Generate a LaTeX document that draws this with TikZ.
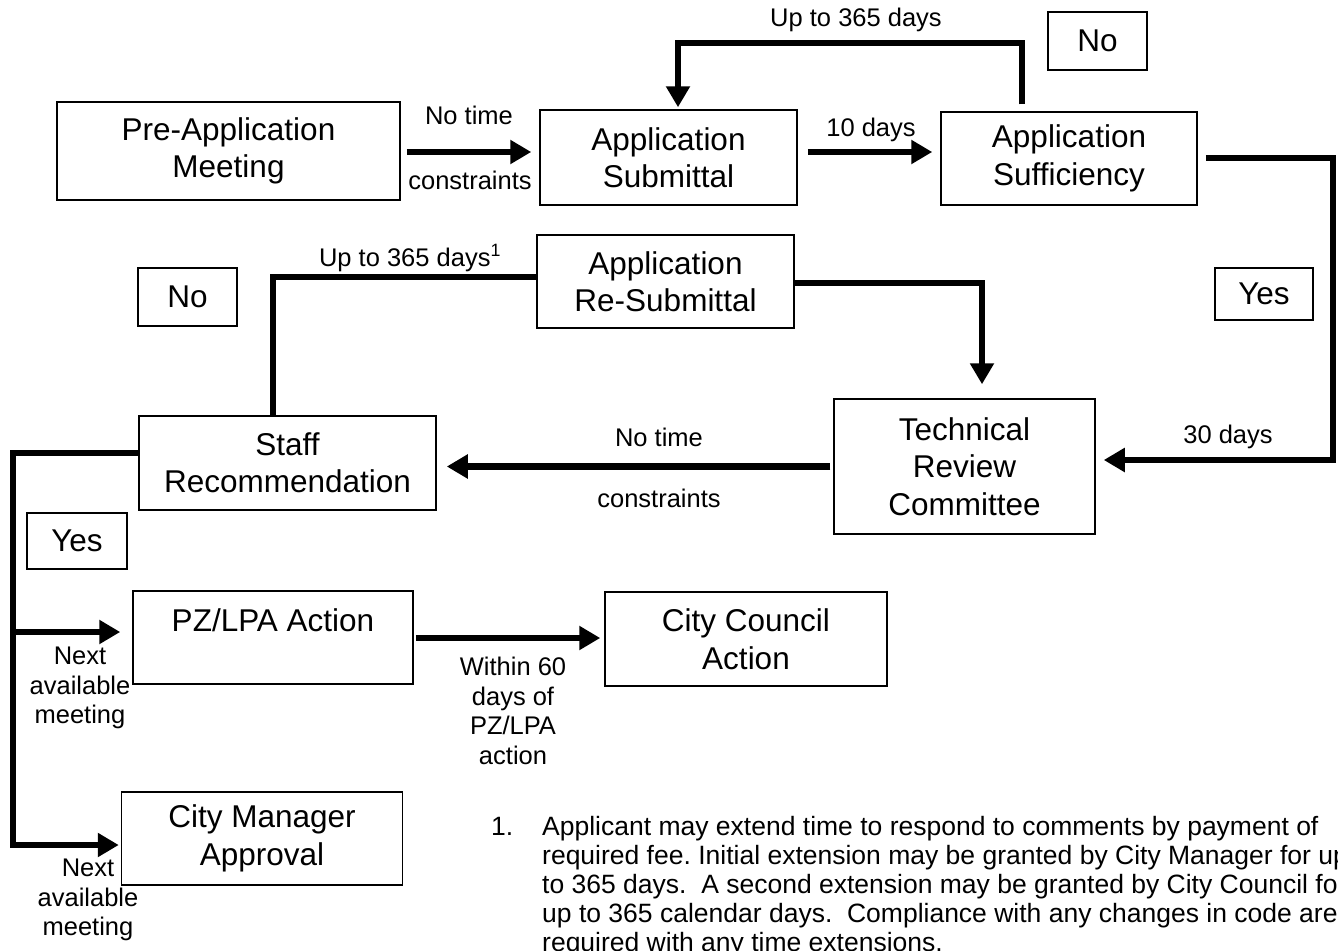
\documentclass[tikz,border=0pt]{standalone}
\usepackage{fontspec}
\setmainfont{Liberation Sans}
\usetikzlibrary{arrows.meta}
\frenchspacing
\begin{document}
\begin{tikzpicture}[x=1pt,y=-1pt,
  box/.style={draw, line width=1.5pt, inner sep=0pt, align=center, font=\fontsize{31.5}{37.5}\selectfont},
  boxtext/.style={inner sep=0pt, align=center, font=\fontsize{31.5}{37.5}\selectfont},
  lbl/.style={inner sep=0pt, align=center, font=\fontsize{25.5}{29.5}\selectfont},
  conn/.style={line width=6.5pt},
  arr/.style={conn, -{Triangle[length=21pt,width=23pt]}},
  note/.style={anchor=base west, inner sep=0pt, font=\fontsize{26.5}{29}\selectfont}]
\useasboundingbox (0,0) rectangle (1338,950);
\clip (0,0) rectangle (1338,950);

% boxes
\node[box, minimum width=343, minimum height=98] (pre) at (228.5,151) {Pre-Application\\Meeting};
\node[box, minimum width=257, minimum height=95] (sub) at (668.5,157.5) {Application\\Submittal};
\node[box, minimum width=256, minimum height=93] (suf) at (1069,158.5) {Application\\Sufficiency};
\node[box, minimum width=99, minimum height=58] (no1) at (1097.5,41) {No};
\node[box, minimum width=257, minimum height=93] (resub) at (665.5,281.5) {Application\\Re-Submittal};
\node[box, minimum width=99, minimum height=58] (no2) at (187.5,297) {No};
\node[box, minimum width=98, minimum height=52] (yes1) at (1264,294) {Yes};
\node[box, minimum width=261, minimum height=135] (trc) at (964.5,466.5) {Technical\\Review\\Committee};
\node[box, minimum width=297, minimum height=94] (staff) at (287.5,463) {Staff\\Recommendation};
\node[box, minimum width=100, minimum height=56] (yes2) at (77,541) {Yes};
\node[box, minimum width=280, minimum height=93] (pz) at (273,637.5) {};
\node[boxtext] (pzt) at (273,620) {PZ/LPA Action};
\node[box, minimum width=282, minimum height=94] (cc) at (746,639) {City Council\\Action};
\node[box, minimum width=281, minimum height=93] (cm) at (262,838.5) {City Manager\\Approval};

% named points
\coordinate (r1) at (0,152);
\coordinate (t1) at (1022,43);
\coordinate (t2) at (678,43);
\coordinate (q1) at (1333,158);
\coordinate (q2) at (1333,460);
\coordinate (s1) at (982,283);
\coordinate (u1) at (273,277);
\coordinate (v1) at (13,453);
\coordinate (v2) at (13,845);
\coordinate (v3) at (13,632);
\coordinate (w1) at (0,638);

% connectors
\draw[arr, shorten <=6pt, shorten >=8pt] (pre.east |- r1) -- (sub.west |- r1);
\draw[arr, shorten <=10pt, shorten >=8pt] (sub.east |- r1) -- (suf.west |- r1);
\draw[arr, shorten <=7pt, shorten >=2pt] (t1 |- suf.north) -- (t1) -- (t2) -- (t2 |- sub.north);
\draw[arr, shorten <=8pt, shorten >=8pt] (suf.east |- q1) -- (q1) -- (q2) -- (q2 -| trc.east);
\draw[arr, shorten >=14pt] (resub.east |- s1) -- (s1) -- (s1 |- trc.north);
\draw[arr, shorten <=3pt, shorten >=10pt] (trc.west) -- (staff.east |- trc.west);
\draw[conn] (u1 |- staff.north) -- (u1) -- (u1 -| resub.west);
\draw[arr, shorten >=2pt] (staff.west |- v1) -- (v1) -- (v2) -- (v2 -| cm.west);
\draw[arr, shorten >=12pt] (v3) -- (v3 -| pz.west);
\draw[arr, shorten <=2pt, shorten >=4pt] (pz.east |- w1) -- (cc.west |- w1);

% labels
\node[lbl] (l1) at (469,115) {No time};
\node[lbl] (l2) at (470,180) {constraints};
\node[lbl] (l3) at (871,130) {10 days};
\node[lbl] (l4) at (856,20) {Up to 365 days};
\node[lbl] (l5) at (1228,437) {30 days};
\node[lbl] (l6) at (659,437) {No time};
\node[lbl] (l7) at (659,498) {constraints};
\node[lbl] (l8) at (410,258) {Up to 365 days\textsuperscript{1}};
\node[lbl] (l9) at (80,688) {Next\\available\\meeting};
\node[lbl] (l10) at (513,711) {Within 60\\days of\\PZ/LPA\\action};
\node[lbl] (l11) at (88,900) {Next\\available\\meeting};

% footnote
\node[note] (n0) at (491,835) {1.};
\node[note] (n1) at (542,835) {Applicant may extend time to respond to comments by payment of};
\node[note] (n2) at (542,864) {required fee. Initial extension may be granted by City Manager for up};
\node[note] (n3) at (542,893) {to 365 days.\ \ A second extension may be granted by City Council for};
\node[note] (n4) at (542,922) {up to 365 calendar days.\ \ Compliance with any changes in code are};
\node[note] (n5) at (542,951) {required with any time extensions.};
\end{tikzpicture}
\end{document}
